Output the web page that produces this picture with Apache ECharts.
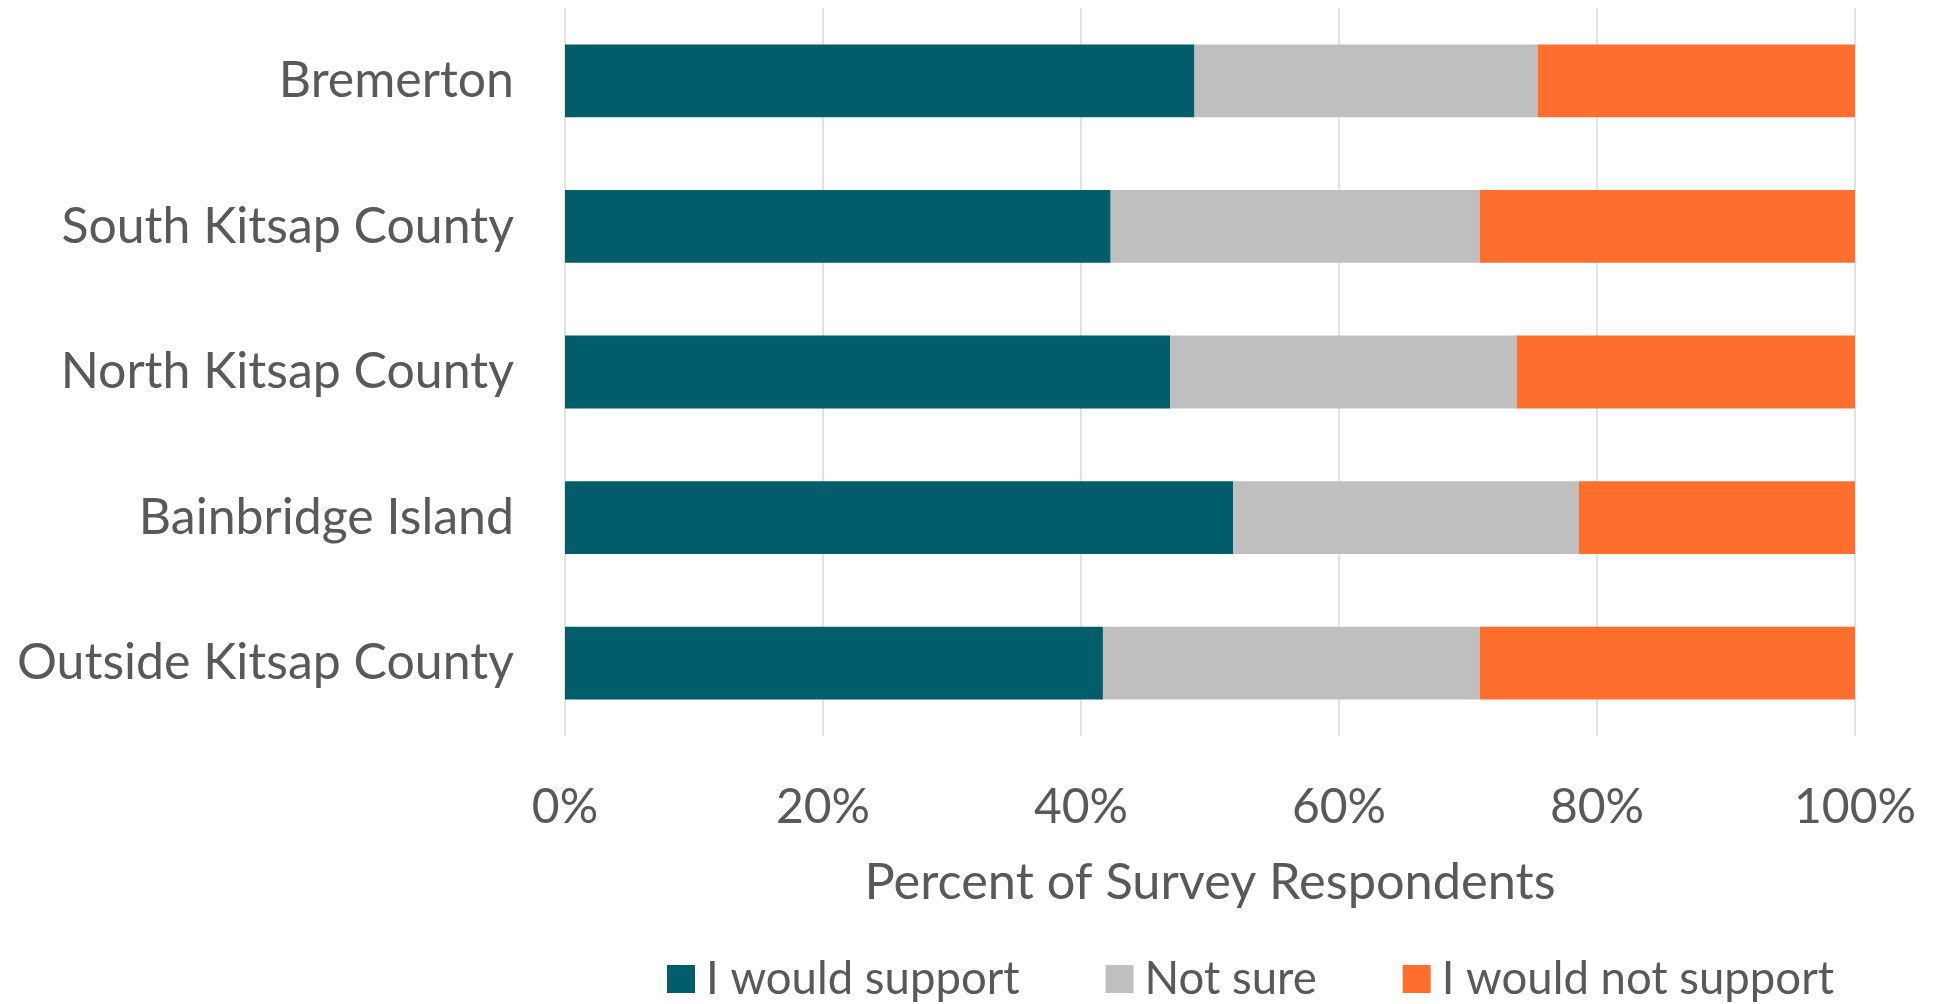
<!DOCTYPE html>
<html>
<head>
<meta charset="utf-8">
<script src="https://cdn.jsdelivr.net/npm/echarts@6/dist/echarts.min.js"></script>
<style>
html,body{margin:0;padding:0;background:#fff;}
#chart{width:1934px;height:1004px;}
</style>
</head>
<body>
<div id="chart"></div>
<script>
const categories = ["Bremerton", "South Kitsap County", "North Kitsap County", "Bainbridge Island", "Outside Kitsap County"];
const seriesNames = ["I would support", "Not sure", "I would not support"];
const support = [48.8, 42.3, 46.9, 51.8, 41.7];
const notSure = [26.6, 28.6, 26.9, 26.8, 29.2];
const notSupport = [24.6, 29.1, 26.2, 21.4, 29.1];
const colors = ["#025D6B", "#BFBFBF", "#FE6F2E"];
const axisTitle = "Percent of Survey Respondents";

const FONT = "Lato";
const TXT = "#595959";
const chart = echarts.init(document.getElementById('chart'));
const mk = (name, data, i) => ({
  name: name, type: 'bar', stack: 'total', data: data,
  barCategoryGap: '50%',
  itemStyle: { color: colors[i] },
  emphasis: { disabled: true }
});
chart.setOption({
  animation: false,
  textStyle: { fontFamily: FONT, color: TXT },
  grid: { left: 565, right: 79, top: 8, height: 728, containLabel: false },
  legend: {
    left: 662, top: 951,
    itemWidth: 28, itemHeight: 28, itemGap: 86,
    icon: 'rect',
    textStyle: { fontFamily: FONT, fontSize: 45.5, color: TXT, padding: [0, 0, 0, 6] },
    data: seriesNames
  },
  xAxis: {
    type: 'value', min: 0, max: 100, interval: 20,
    axisLine: { show: false }, axisTick: { show: false },
    splitLine: { show: true, lineStyle: { color: '#D9D9D9', width: 1.5 } },
    axisLabel: { formatter: '{value}%', fontFamily: FONT, fontSize: 48, color: TXT, margin: 48 },
    name: axisTitle, nameLocation: 'middle', nameGap: 121,
    nameTextStyle: { fontFamily: FONT, fontSize: 50.5, color: TXT }
  },
  yAxis: {
    type: 'category', data: categories, inverse: true,
    axisLine: { show: false }, axisTick: { show: false },
    axisLabel: { fontFamily: FONT, fontSize: 50, color: TXT, margin: 51 }
  },
  series: [mk(seriesNames[0], support, 0), mk(seriesNames[1], notSure, 1), mk(seriesNames[2], notSupport, 2)]
});
</script>
</body>
</html>
